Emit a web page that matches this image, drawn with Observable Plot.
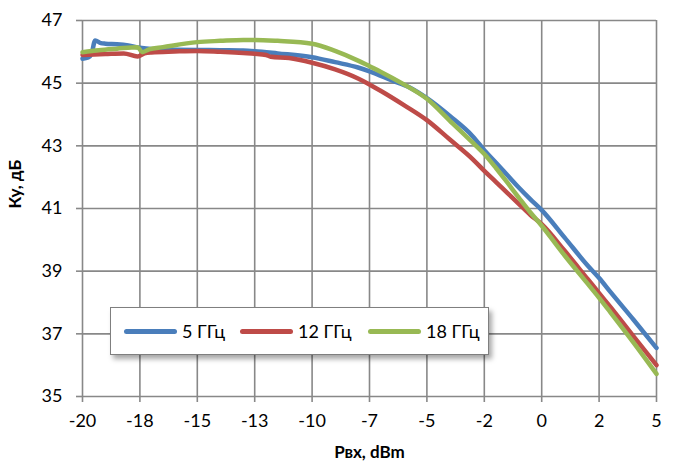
<!DOCTYPE html>
<html><head><meta charset="utf-8">
<script src="https://cdn.jsdelivr.net/npm/d3@7"></script>
<script src="https://cdn.jsdelivr.net/npm/@observablehq/plot@0.6"></script>
<style>
body{margin:0;background:#fff;}
#wrap{position:relative;width:677px;height:462px;font-family:Lato, sans-serif;}
#legend{position:absolute;left:110px;top:307px;width:377px;height:46px;border:1px solid #7f7f7f;background:#fff;box-shadow:3px 4px 5px rgba(0,0,0,0.35);}
.item{position:absolute;top:0;height:46px;display:flex;align-items:center;font-size:18px;color:#000;}
.sw{width:53px;height:5px;border-radius:3px;margin-right:5px;}
</style></head>
<body><div id="wrap"></div>
<script>
const seriesNames = ["5 ГГц", "12 ГГц", "18 ГГц"];
const seriesColors = ["#4a7ebb", "#be4b48", "#98b954"];

const P5 = [-20, -19.75, -19.6, -19.45, -19.2, -19, -18.5, -18, -17.5, -17, -16, -15, -14, -13, -12.5, -11.5, -10, -9, -8, -7.5, -6.5, -5.75, -5, -4, -3, -2.5, -2, -1.5, -1, -0.5, 0, 1, 2, 2.5, 3, 4, 5];
const K5 = [45.78, 45.82, 45.95, 46.36, 46.28, 46.26, 46.24, 46.2, 46.13, 46.09, 46.07, 46.06, 46.05, 46.04, 46.02, 45.95, 45.83, 45.67, 45.5, 45.38, 45.08, 44.86, 44.52, 43.95, 43.3, 42.86, 42.47, 42.07, 41.67, 41.3, 40.95, 40.07, 39.18, 38.78, 38.33, 37.45, 36.55];

const P12 = [-20, -19, -18.2, -17.6, -17.3, -17, -16, -15, -14, -13, -12.5, -12, -11.8, -11, -10, -9, -8, -7.5, -7, -6, -5, -4, -3, -2.5, -2, -1.5, -1, -0.5, 0, 1, 2, 2.5, 3, 4, 5];
const K12 = [45.9, 45.93, 45.95, 45.85, 45.95, 45.98, 46.01, 46.03, 46.0, 45.96, 45.94, 45.9, 45.84, 45.8, 45.65, 45.44, 45.15, 44.96, 44.75, 44.3, 43.82, 43.2, 42.57, 42.2, 41.85, 41.5, 41.15, 40.8, 40.5, 39.65, 38.75, 38.3, 37.85, 36.92, 36.0];

const P18 = [-20, -19.3, -18.5, -17.6, -17.4, -17.1, -16.5, -15, -14, -13, -12.5, -11.5, -10, -9, -8, -7.5, -7, -6, -5, -4, -3, -2.5, -2, -1.5, -1, -0.5, 0, 1, 2, 2.5, 3, 4, 5];
const K18 = [45.99, 46.05, 46.1, 46.15, 45.99, 46.08, 46.15, 46.31, 46.35, 46.38, 46.38, 46.35, 46.26, 46.03, 45.72, 45.54, 45.36, 44.96, 44.5, 43.8, 43.1, 42.74, 42.3, 41.83, 41.35, 40.88, 40.45, 39.5, 38.6, 38.15, 37.68, 36.72, 35.72];

const xTicks = [-20, -17.5, -15, -12.5, -10, -7.5, -5, -2.5, 0, 2.5, 5];
const xTickLabels = ["-20", "-18", "-15", "-13", "-10", "-7", "-5", "-2", "0", "2", "5"];
const yTicks = [35, 37, 39, 41, 43, 45, 47];
const xTitle = "Рвх, dBm";
const yTitle = "Ку, дБ";

const Ps = [P5, P12, P18], Ks = [K5, K12, K18];
const rows = [];
seriesNames.forEach((s, i) => Ps[i].forEach((p, j) => rows.push({P: p, K: Ks[i][j], s})));

const gridColor = "#888888";
const plot = Plot.plot({
  width: 677, height: 462,
  marginLeft: 82, marginRight: 21, marginTop: 20, marginBottom: 66,
  style: {fontFamily: "Lato, sans-serif", fontSize: "18px", color: "#000", background: "#fff"},
  x: {domain: [-20, 5]},
  y: {domain: [35, 47]},
  color: {domain: seriesNames, range: seriesColors},
  marks: [
    Plot.ruleX(xTicks, {stroke: gridColor, strokeWidth: 1.6}),
    Plot.ruleY(yTicks, {stroke: gridColor, strokeWidth: 1.6}),
    Plot.axisX(xTicks, {tickSize: 6, tickPadding: 12, stroke: gridColor, strokeWidth: 1.6, strokeOpacity: 1,
      tickFormat: d => xTickLabels[xTicks.indexOf(d)], label: null, fontSize: 18}),
    Plot.axisY(yTicks, {tickSize: 6, tickPadding: 14, stroke: gridColor, strokeWidth: 1.6, strokeOpacity: 1,
      label: null, fontSize: 18}),
    Plot.line(rows, {x: "P", y: "K", z: "s", stroke: "s", strokeWidth: 4.5, curve: "monotone-x", strokeLinejoin: "round", strokeLinecap: "round"}),
    Plot.text([xTitle], {frameAnchor: "bottom", lineAnchor: "middle", dy: 56, fontWeight: "bold", fontSize: 17}),
    Plot.text([yTitle], {frameAnchor: "left", dx: -67, rotate: -90, fontWeight: "bold", fontSize: 17})
  ]
});
const wrap = document.getElementById("wrap");
wrap.appendChild(plot);

const legend = document.createElement("div");
legend.id = "legend";
const itemLeft = [13, 129, 257];
seriesNames.forEach((s, i) => {
  const it = document.createElement("div");
  it.className = "item";
  it.style.left = itemLeft[i] + "px";
  const sw = document.createElement("div");
  sw.className = "sw";
  sw.style.background = seriesColors[i];
  const t = document.createElement("span");
  t.textContent = s;
  it.appendChild(sw); it.appendChild(t);
  legend.appendChild(it);
});
wrap.appendChild(legend);
</script></body></html>
